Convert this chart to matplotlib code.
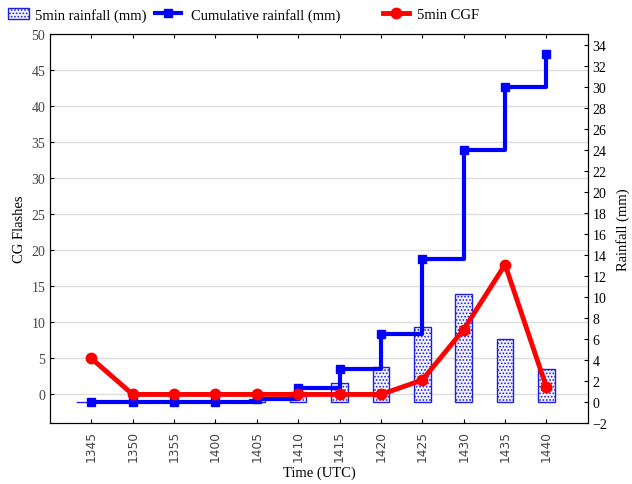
import numpy as np
import matplotlib.pyplot as plt
from matplotlib.patches import Patch
from matplotlib.lines import Line2D

plt.rcParams['font.family'] = ['Liberation Serif', 'DejaVu Serif']
plt.rcParams['hatch.linewidth'] = 0.8

# data
times = ['1345', '1350', '1355', '1400', '1405', '1410',
         '1415', '1420', '1425', '1430', '1435', '1440']
rain_5min = [0, 0, 0, 0, 0.3, 1.0, 1.8, 3.4, 7.2, 10.3, 6.0, 3.2]
rain_cum = [0, 0, 0, 0, 0.3, 1.4, 3.2, 6.5, 13.7, 24.0, 30.0, 33.2]
cgf_5min = [5, 0, 0, 0, 0, 0, 0, 0, 2, 9, 18, 1]

x = np.arange(len(times))

fig = plt.figure(figsize=(6.32, 4.85), dpi=100)
ax = fig.add_axes([0.0791, 0.1252, 0.851, 0.8028])
ax2 = ax.twinx()

ax.set_xlim(-1, 12)
ax.set_ylim(-4, 50)
ax2.set_ylim(-2, 35.1)

ax.set_yticks(np.arange(0, 51, 5))
ax2.set_yticks(np.arange(-2, 35, 2))
ax.set_xticks(x)
ax.set_xticklabels(times, rotation=90, fontsize=8.8, family='DejaVu Sans', color='#444444')
ax.tick_params(axis='y', labelsize=10, labelcolor='#444444', direction='in', length=3)
ax.tick_params(axis='x', direction='in', length=3, top=True, pad=5)
ax2.tick_params(axis='y', labelsize=10, direction='in', length=3)

ax.grid(axis='y', color='#dddddd', linewidth=1)
ax.set_axisbelow(True)

# 5-min rainfall bars (right axis)
bars = ax2.bar(x[4:], rain_5min[4:], width=0.4, facecolor='#f4f4ff',
               edgecolor='#2020e0', linewidth=1, hatch='.....', zorder=2)

# cumulative rainfall (right axis), stepped
ax2.plot([x[0] - 0.35, x[0]], [rain_cum[0], rain_cum[0]], color='#2020ff', lw=1, zorder=3)
ax2.plot(x, rain_cum, drawstyle='steps-post', color='#0000ff', lw=3, zorder=3)
ax2.plot(x, rain_cum, 's', color='#0000ff', ms=6, zorder=3)

# CG flashes (left axis) drawn on top
ax2.plot(x, cgf_5min, '-o', color='#ff0000', lw=3.5, ms=7.5, zorder=4,
         transform=ax.transData)

ax.set_xlabel('Time (UTC)', fontsize=10.5, labelpad=3)
ax.set_ylabel('CG Flashes', fontsize=10.5)
ax2.set_ylabel('Rainfall (mm)', fontsize=10.5, labelpad=6)

h1 = Patch(facecolor='#f4f4ff', edgecolor='#2020e0', hatch='.....')
h2 = Line2D([], [], color='#0000ff', lw=3, marker='s', ms=6)
h3 = Line2D([], [], color='#ff0000', lw=3.5, marker='o', ms=7.5)
kw = dict(frameon=False, fontsize=10.5, loc='upper left', borderaxespad=0, borderpad=0)
fig.legend([h1], ['5min rainfall (mm)'], bbox_to_anchor=(0.012, 0.982),
           handlelength=1.5, handletextpad=0.4, **kw)
fig.legend([h2], ['Cumulative rainfall (mm)'], bbox_to_anchor=(0.245, 0.982),
           handlelength=1.8, handletextpad=0.7, **kw)
fig.legend([h3], ['5min CGF'], bbox_to_anchor=(0.606, 0.982),
           handlelength=1.8, handletextpad=0.5, **kw)

fig.savefig('out.png', dpi=100)
